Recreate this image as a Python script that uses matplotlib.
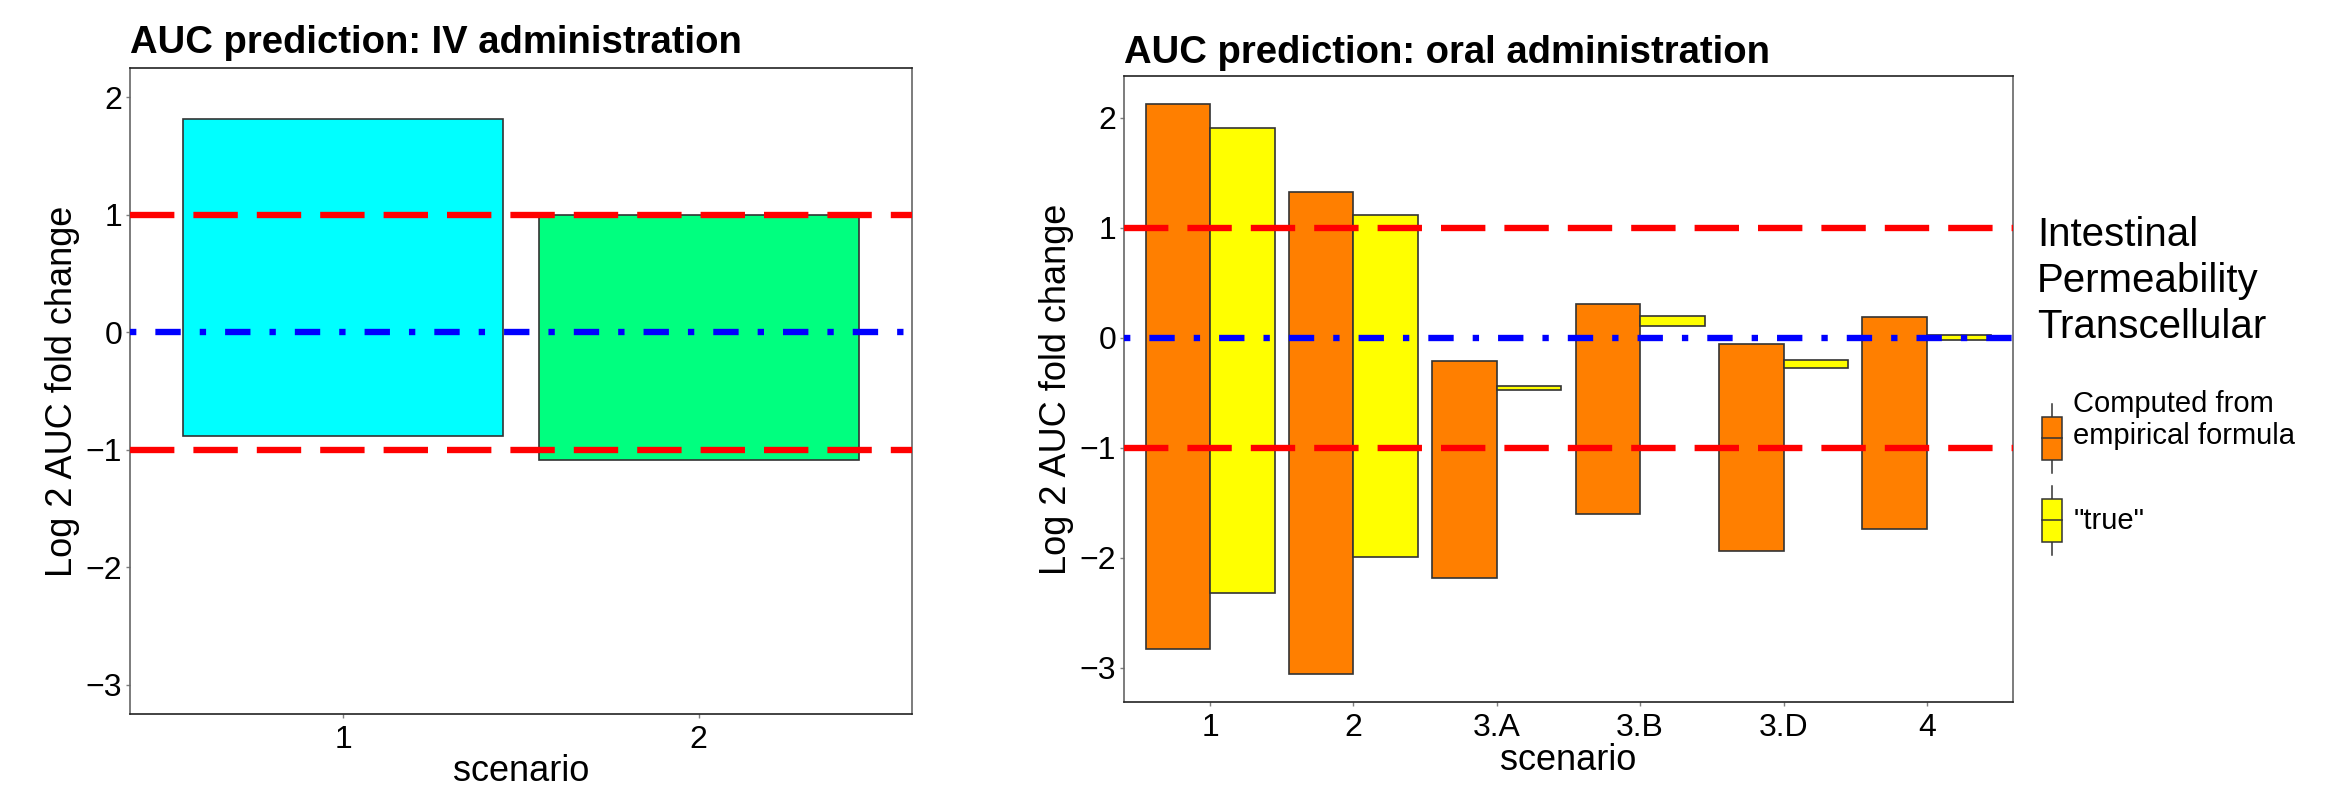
import matplotlib
matplotlib.use("Agg")
import matplotlib.pyplot as plt
import numpy as np
from matplotlib.patches import Patch, Rectangle
from matplotlib.lines import Line2D
from matplotlib.legend_handler import HandlerBase

plt.rcParams['font.family'] = ['Liberation Sans', 'DejaVu Sans']

# ---------------- data ----------------
iv_scenarios = ["1", "2"]
iv_low = [-0.885, -1.086]
iv_high = [1.813, 0.995]
iv_colors = ["#00FFFF", "#00FF7F"]

oral_scenarios = ["1", "2", "3.A", "3.B", "3.D", "4"]
emp_low = [-2.83, -3.055, -2.183, -1.598, -1.94, -1.735]
emp_high = [2.124, 1.329, -0.215, 0.312, -0.055, 0.192]
true_low = [-2.319, -1.995, -0.473, 0.112, -0.27, -0.018]
true_high = [1.909, 1.115, -0.434, 0.194, -0.197, 0.027]
series_labels = ["Computed from\nempirical formula", '"true"']
series_colors = ["#FF7F00", "#FFFF00"]

ref_fold = [1, -1]
ref_zero = 0
yticks = [-3, -2, -1, 0, 1, 2]

legend_title = "Intestinal\nPermeability\nTranscellular"
EDGE = "#333333"

W, H = 2344, 788
fig = plt.figure(figsize=(W / 100, H / 100), dpi=100)


def style_axes(ax):
    for side in ["top", "bottom"]:
        ax.spines[side].set_color("#222222")
        ax.spines[side].set_linewidth(1.2)
    for side in ["left", "right"]:
        ax.spines[side].set_color("#666666")
        ax.spines[side].set_linewidth(1.2)
    ax.tick_params(axis="both", length=3, width=1, color="#7f7f7f",
                   labelsize=23, labelcolor="black", pad=2.5)
    ax.tick_params(axis="x", pad=5)
    ax.set_yticks(yticks)


def ref_lines(ax):
    lw = 6.34 * 72 / 100
    for y in ref_fold:
        l = ax.axhline(y, color="#FF0000", lw=lw, zorder=4)
        l.set_dashes((7, 3))
    l = ax.axhline(ref_zero, color="#0000FF", lw=lw, zorder=4)
    l.set_dashes((1, 3, 4, 3))


# ---------------- left panel ----------------
ax1 = fig.add_axes([130 / W, 1 - 714 / H, 782 / W, 646 / H])
x1 = np.arange(1, len(iv_scenarios) + 1)
ax1.bar(x1, np.array(iv_high) - np.array(iv_low), bottom=iv_low, width=0.9,
        color=iv_colors, edgecolor=EDGE, linewidth=1.2, zorder=2)
ref_lines(ax1)
ax1.set_xlim(0.4, 2.6)
ax1.set_ylim(-3.25, 2.25)
ax1.set_xticks(x1)
ax1.set_xticklabels(iv_scenarios)
style_axes(ax1)
ax1.set_xlabel("scenario", fontsize=26, labelpad=-1)
ax1.set_ylabel("Log 2 AUC fold change", fontsize=26, labelpad=4)
ax1.set_title("AUC prediction: IV administration", loc="left",
              fontsize=27.5, fontweight="bold", pad=11)

# ---------------- right panel ----------------
ax2 = fig.add_axes([1124 / W, 1 - 702 / H, 889 / W, 626 / H])
x2 = np.arange(1, len(oral_scenarios) + 1)
bw = 0.45
ax2.bar(x2 - bw / 2, np.array(emp_high) - np.array(emp_low), bottom=emp_low,
        width=bw, color=series_colors[0], edgecolor=EDGE, linewidth=1.2, zorder=2)
ax2.bar(x2 + bw / 2, np.array(true_high) - np.array(true_low), bottom=true_low,
        width=bw, color=series_colors[1], edgecolor=EDGE, linewidth=1.2, zorder=2)
ref_lines(ax2)
ax2.set_xlim(0.4, 6.6)
ax2.set_ylim(-3.31, 2.38)
ax2.set_xticks(x2)
ax2.set_xticklabels(oral_scenarios)
style_axes(ax2)
ax2.set_xlabel("scenario", fontsize=26, labelpad=0)
ax2.set_ylabel("Log 2 AUC fold change", fontsize=26, labelpad=4)
ax2.set_title("AUC prediction: oral administration", loc="left",
              fontsize=27.5, fontweight="bold", pad=9.5)


# ---------------- legend with boxplot keys ----------------
class BoxKey(HandlerBase):
    """Boxplot glyph of fixed size (in points), centred on the handle area."""

    def __init__(self, dy=0.0, **kw):
        super().__init__(**kw)
        self.dy = dy

    def create_artists(self, legend, orig_handle, xdescent, ydescent,
                       width, height, fontsize, trans):
        fc = orig_handle.get_facecolor()
        cx = -xdescent + width / 2
        cy = -ydescent + height / 2 + self.dy * fontsize
        bwid = 14.4
        box_h = 31.0
        whisk = 9.4
        b0 = cy - box_h / 2
        b1 = cy + box_h / 2
        rect = Rectangle((cx - bwid / 2, b0), bwid, box_h, facecolor=fc,
                         edgecolor=EDGE, linewidth=1.1, transform=trans)
        w1 = Line2D([cx, cx], [b0 - whisk, b0], color=EDGE, lw=1.1, transform=trans)
        w2 = Line2D([cx, cx], [b1, b1 + whisk], color=EDGE, lw=1.1, transform=trans)
        med = Line2D([cx - bwid / 2, cx + bwid / 2], [cy, cy],
                     color=EDGE, lw=1.1, transform=trans)
        return [w1, w2, rect, med]


handles = [Patch(facecolor=c, edgecolor=EDGE) for c in series_colors]
leg = ax2.legend(handles, series_labels, title=legend_title,
                 loc="upper left", bbox_to_anchor=(2037 / W, 1 - 216 / H),
                 bbox_transform=fig.transFigure, frameon=False,
                 fontsize=21, title_fontsize=29, alignment="left",
                 borderpad=0, borderaxespad=0, handlelength=1.0,
                 handleheight=2.37, labelspacing=1.5, handletextpad=0.25,
                 handler_map={handles[0]: BoxKey(dy=-0.55),
                              handles[1]: BoxKey(dy=0.0)})
leg.get_title().set_linespacing(1.27)

fig.savefig("out.png", dpi=100)
